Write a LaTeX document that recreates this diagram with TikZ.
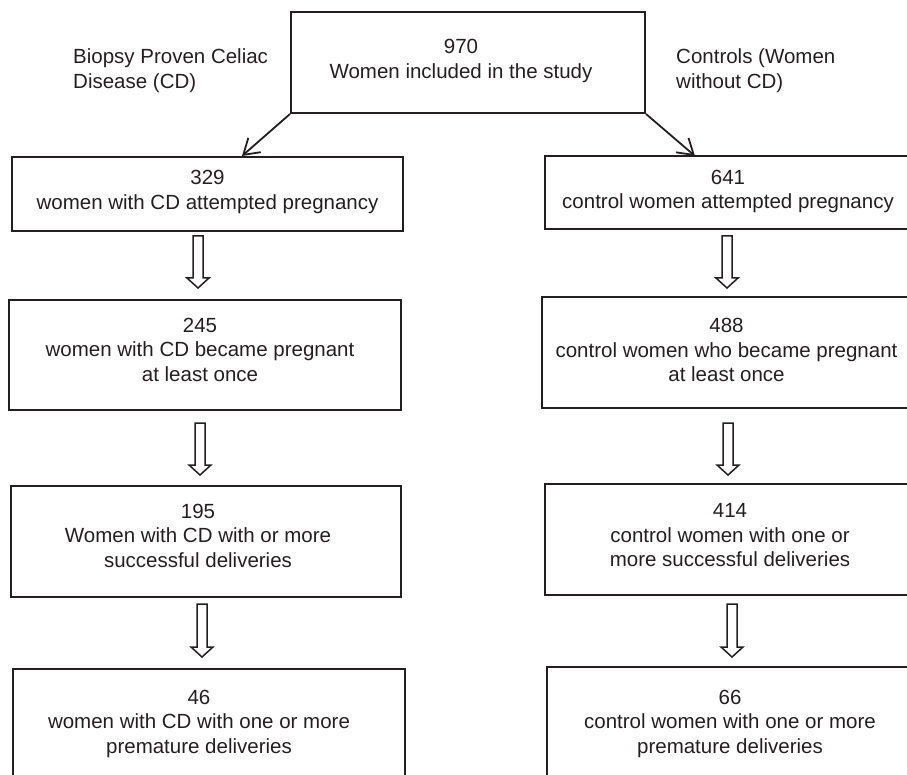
\documentclass[tikz,border=0pt]{standalone}
\usepackage{fontspec}
\setmainfont{Liberation Sans}
\usetikzlibrary{arrows.meta,calc}
\definecolor{ink}{HTML}{231F20}
\newcommand{\bxt}[3]{\raisebox{#2}[\height][\depth]{\hspace*{#1}\begin{tabular}{@{}c@{}}#3\end{tabular}\hspace*{-#1}}}
\newcommand{\harrow}[2]{\draw[harr] ($(#1)+(-5,0)$) -- ($(#2)+(-5,-10)$) -- ($(#2)+(-11,-10)$) -- (#2) -- ($(#2)+(11,-10)$) -- ($(#2)+(5,-10)$) -- ($(#1)+(5,0)$) -- cycle;}
\begin{document}
\begin{tikzpicture}[x=1pt,y=-1pt,
  box/.style={draw=ink, line width=2pt, inner sep=0pt, text=ink, font=\fontsize{20.5}{24.5}\selectfont},
  lbl/.style={inner sep=0pt, text=ink, font=\fontsize{20.5}{24.5}\selectfont},
  diag/.style={draw=ink, line width=1.8pt, -{Straight Barb[length=15pt,width=19pt]}},
  harr/.style={draw=ink, line width=1.5pt, fill=white, line join=miter}]
\useasboundingbox (0,0) rectangle (907,775);
\clip (0,0) rectangle (907,775);
% top
\node[box, minimum width=354pt, minimum height=101pt] (top) at (468,62.5)
  {\bxt{-7pt}{1.5pt}{970\\Women included in the study}};
\node[lbl, anchor=west] (lcd) at (73,71)
  {\begin{tabular}{@{}l@{}}Biopsy Proven Celiac\\Disease (CD)\end{tabular}};
\node[lbl, anchor=west] (rct) at (676,71)
  {\begin{tabular}{@{}l@{}}Controls (Women\\without CD)\end{tabular}};
% left column
\node[box, minimum width=391pt, minimum height=74pt] (b1) at (207.5,194)
  {\bxt{0pt}{2pt}{329\\women with CD attempted pregnancy}};
\node[box, minimum width=392pt, minimum height=110pt] (b2) at (205,355)
  {\bxt{-5pt}{3pt}{245\\women with CD became pregnant\\at least once}};
\node[box, minimum width=390pt, minimum height=111pt] (b3) at (206,541.5)
  {\bxt{-8pt}{3.5pt}{195\\Women with CD with or more\\successful deliveries}};
\node[box, minimum width=392pt, minimum height=116pt] (b4) at (209,727)
  {\bxt{-10pt}{3pt}{46\\women with CD with one or more\\premature deliveries}};
% right column (boxes run past the right edge of the picture)
\node[box, minimum width=370pt, minimum height=73pt] (r1) at (730,192.5)
  {\bxt{-2pt}{1pt}{641\\control women attempted pregnancy}};
\node[box, minimum width=373pt, minimum height=111pt] (r2) at (728.5,352.5)
  {\bxt{-2pt}{0pt}{488\\control women who became pregnant\\at least once}};
\node[box, minimum width=370pt, minimum height=111pt] (r3) at (730,539.5)
  {\bxt{0pt}{2pt}{414\\control women with one or\\more successful deliveries}};
\node[box, minimum width=368pt, minimum height=120pt] (r4) at (731,727)
  {\bxt{-1pt}{3pt}{66\\control women with one or more\\premature deliveries}};
% diagonal arrows
\coordinate (t1) at (242,156);
\coordinate (t2) at (695,156);
\draw[diag] (top.south west) -- (t1);
\draw[diag] (top.south east) -- (t2);
% hollow arrows
\coordinate (la1s) at (198,236); \coordinate (la1e) at (198,288);
\coordinate (la2s) at (200,423); \coordinate (la2e) at (200,475);
\coordinate (la3s) at (202,604); \coordinate (la3e) at (202,657);
\coordinate (ra1s) at (727,236); \coordinate (ra1e) at (727,288);
\coordinate (ra2s) at (728,423); \coordinate (ra2e) at (728,475);
\coordinate (ra3s) at (732,604); \coordinate (ra3e) at (732,657);
\harrow{la1s}{la1e}
\harrow{la2s}{la2e}
\harrow{la3s}{la3e}
\harrow{ra1s}{ra1e}
\harrow{ra2s}{ra2e}
\harrow{ra3s}{ra3e}
\end{tikzpicture}
\end{document}
